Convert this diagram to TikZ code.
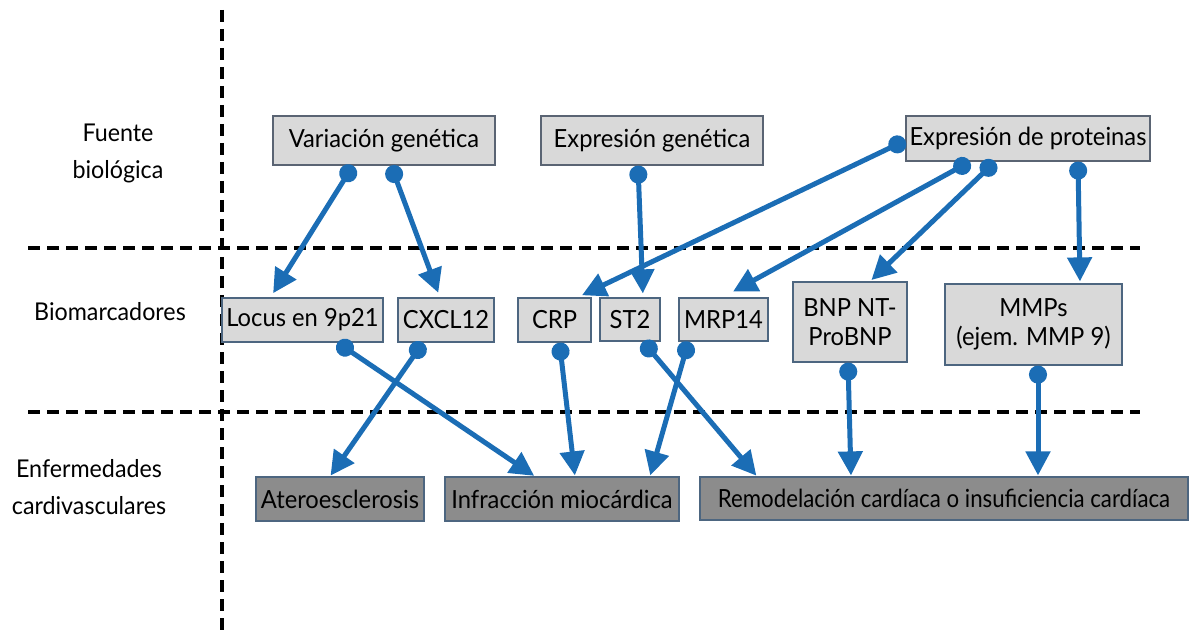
\documentclass[tikz,border=0pt]{standalone}
\usepackage{fontspec}
\setmainfont{Lato}[FakeStretch=0.95]
\newfontfamily\narrowfont{Lato}[FakeStretch=0.89]
\usetikzlibrary{arrows.meta}
\definecolor{linkblue}{RGB}{27,109,181}
\definecolor{lightbox}{RGB}{217,217,217}
\definecolor{darkbox}{RGB}{140,140,140}
\definecolor{edgegray}{RGB}{90,100,115}
\begin{document}
\begin{tikzpicture}[x=1pt,y=-1pt,font=\fontsize{25}{29}\selectfont,
  srcbox/.style={draw=edgegray,line width=1.2pt,fill=lightbox,inner sep=1pt},
  markbox/.style={draw=edgegray!80!linkblue,line width=1.2pt,fill=lightbox,inner sep=1pt,align=center},
  illbox/.style={draw=edgegray!80!linkblue,line width=1.2pt,fill=darkbox,inner sep=1pt},
  rowline/.style={line width=3.5pt,dash pattern=on 12pt off 7pt},
  link/.style={draw=linkblue,line width=5pt,{Circle[length=18pt]}-{Triangle[length=24pt,width=24pt]},shorten >=1pt},
  rowlabel/.style={align=center,font=\fontsize{24.5}{37}\selectfont}]
\useasboundingbox (0,0) rectangle (1191,636);
% dashed frame lines
\draw[rowline] (222,10) -- (222,636);
\draw[rowline] (28,248) -- (1140,248);
\draw[rowline] (28,412) -- (1140,412);
% row names
\node[rowlabel] (lsource) at (118,153) {Fuente\\biológica};
\node[rowlabel] (lmarker) at (110,312) {Biomarcadores};
\node[rowlabel] (lillness) at (89,487) {Enfermedades\\cardivasculares};
% biological sources
\node[srcbox,minimum width=222,minimum height=49] (vargen) at (384,140.5) {Variación genética};
\node[srcbox,minimum width=222,minimum height=49] (expgen) at (652,140.5) {Expresión genética};
\node[srcbox,minimum width=244,minimum height=45] (prot) at (1028,138.5) {Expresión de proteinas};
% biomarkers
\node[markbox,minimum width=161,minimum height=44] (locus) at (302.5,320) {Locus en 9p21};
\node[markbox,minimum width=96,minimum height=44] (cxcl) at (446,320) {CXCL12};
\node[markbox,minimum width=73,minimum height=44] (crp) at (554.5,320) {CRP};
\node[markbox,minimum width=60,minimum height=43] (st2) at (630,319.5) {ST2};
\node[markbox,minimum width=89,minimum height=43] (mrp) at (723.5,319.5) {MRP14};
\node[markbox,minimum width=114,minimum height=80] (bnp) at (850,322) {BNP NT-\\ProBNP};
\node[markbox,minimum width=177,minimum height=81] (mmp) at (1033.5,324.5) {MMPs\\(ejem. MMP 9)};
% diseases
\node[illbox,minimum width=168,minimum height=44] (atero) at (340,499) {Ateroesclerosis};
\node[illbox,minimum width=234,minimum height=44] (infarto) at (562,499) {Infracción miocárdica};
\node[illbox,minimum width=488,minimum height=43,font=\narrowfont\fontsize{25}{29}\selectfont] (remod) at (944,498.5) {Remodelación cardíaca o insuficiencia cardíaca};
% source -> biomarker
\draw[link,shorten >=5pt] ([xshift=-31]vargen.south) -- ([xshift=-32]locus.north);
\draw[link,shorten >=5pt] ([xshift=7]vargen.south) -- ([xshift=-6]cxcl.north);
\draw[link,shorten >=5pt] ([yshift=-2]prot.west) -- ([xshift=23]crp.north);
\draw[link,shorten >=4pt] ([xshift=-14]expgen.south) -- ([xshift=13]st2.north);
\draw[link,shorten >=12pt] ([xshift=-58]prot.south) -- ([xshift=-1]mrp.north);
\draw[link,shorten >=2pt] ([xshift=-33]prot.south) -- ([xshift=20]bnp.north);
\draw[link,shorten >=2pt] ([xshift=50]prot.south) -- ([xshift=46.5]mmp.north);
% biomarker -> disease
\draw[link] ([xshift=35]locus.south) -- ([xshift=-27]infarto.north);
\draw[link] ([xshift=-23]cxcl.south) -- ([xshift=-10]atero.north);
\draw[link] ([xshift=5]crp.south) -- ([xshift=13]infarto.north);
\draw[link] ([xshift=13]st2.south) -- ([xshift=-187]remod.north);
\draw[link] ([xshift=-35]mrp.south) -- ([xshift=88]infarto.north);
\draw[link] ([xshift=-2]bnp.south) -- ([xshift=-93]remod.north);
\draw[link] ([xshift=4.5]mmp.south) -- ([xshift=94]remod.north);
\end{tikzpicture}
\end{document}
